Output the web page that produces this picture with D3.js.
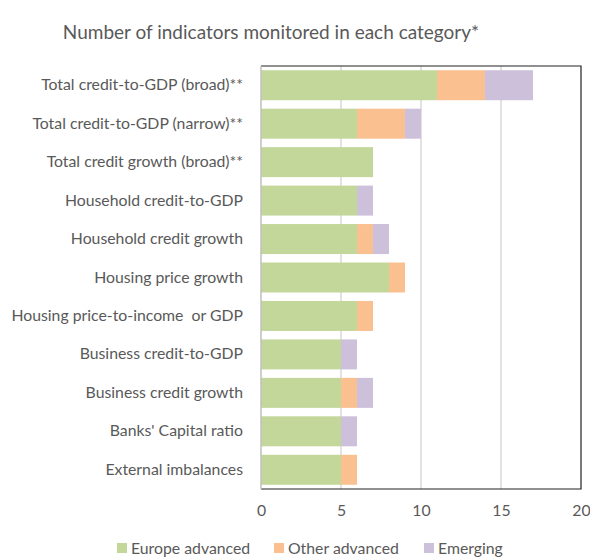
<!DOCTYPE html>
<html>
<head>
<meta charset="utf-8">
<script src="https://cdn.jsdelivr.net/npm/d3@7"></script>
<style>
  body { margin: 0; background: #fff; }
  text { font-family: Lato, "Open Sans", sans-serif; fill: #595959; }
</style>
</head>
<body>
<svg id="canvas" width="590" height="557"></svg>
<script>
let categories = [
    "Total credit-to-GDP (broad)**",
    "Total credit-to-GDP (narrow)**",
    "Total credit growth (broad)**",
    "Household credit-to-GDP",
    "Household credit growth",
    "Housing price growth",
    "Housing price-to-income  or GDP",
    "Business credit-to-GDP",
    "Business credit growth",
    "Banks' Capital ratio",
    "External imbalances"
]
let seriesNames = ["Europe advanced", "Other advanced", "Emerging"]
let europeAdvanced = [11, 6, 7, 6, 6, 8, 6, 5, 5, 5, 5]
let otherAdvanced  = [3, 3, 0, 0, 1, 1, 1, 0, 1, 0, 1]
let emerging       = [3, 1, 0, 1, 1, 0, 0, 1, 1, 1, 0]
let xTicks = [0, 5, 10, 15, 20]
let colors = ["#c4d79b", "#fac090", "#ccc0da"]

let canvas = d3.select("#canvas")

let plotLeft = 261, plotRight = 581, plotTop = 66, plotBottom = 489

let rows = categories.map((c, i) => ({
    cat: c,
    "Europe advanced": europeAdvanced[i],
    "Other advanced": otherAdvanced[i],
    "Emerging": emerging[i]
}))
let stacked = d3.stack().keys(seriesNames)(rows)

let x = d3.scaleLinear().domain([0, 20]).range([plotLeft, plotRight])
let y = d3.scaleBand().domain(categories).range([plotTop, plotBottom]).paddingInner(0.22).paddingOuter(0.11)

// title
canvas.append("text")
    .attr("x", 271)
    .attr("y", 39)
    .attr("text-anchor", "middle")
    .style("font-size", "19px")
    .text("Number of indicators monitored in each category*")

// gridlines
canvas.append("g")
    .selectAll("line")
    .data(xTicks.slice(1, -1))
    .enter()
    .append("line")
    .attr("x1", (d) => x(d))
    .attr("x2", (d) => x(d))
    .attr("y1", plotTop)
    .attr("y2", plotBottom)
    .attr("stroke", "#d9d9d9")
    .attr("stroke-width", 1.5)

// bars
canvas.append("g")
    .selectAll("g")
    .data(stacked)
    .enter()
    .append("g")
    .attr("fill", (d, i) => colors[i])
    .selectAll("rect")
    .data((d) => d)
    .enter()
    .append("rect")
    .attr("x", (d) => x(d[0]))
    .attr("y", (d) => y(d.data.cat))
    .attr("width", (d) => x(d[1]) - x(d[0]))
    .attr("height", y.bandwidth())

// frame
canvas.append("path")
    .attr("d", `M${plotLeft},${plotTop}H${plotRight}V${plotBottom}H${plotLeft}`)
    .attr("fill", "none")
    .attr("stroke", "#222")
    .attr("stroke-width", 1.2)
canvas.append("line")
    .attr("x1", plotLeft).attr("x2", plotLeft)
    .attr("y1", plotTop).attr("y2", plotBottom)
    .attr("stroke", "#bfbfbf")
    .attr("stroke-width", 1.5)

// x axis labels
let xAxis = d3.axisBottom(x).tickValues(xTicks).tickSize(0).tickPadding(16)
let gx = canvas.append("g")
    .attr("transform", `translate(0,${plotBottom})`)
    .call(xAxis)
gx.select(".domain").remove()
gx.selectAll("text")
    .style("font-size", "15.8px")
    .style("font-family", "Lato, 'Open Sans', sans-serif")
    .attr("fill", "#595959")

// y axis labels
let yAxis = d3.axisLeft(y).tickSize(0).tickPadding(18)
let gy = canvas.append("g")
    .attr("transform", `translate(${plotLeft},0)`)
    .call(yAxis)
gy.select(".domain").remove()
gy.selectAll("text")
    .style("font-size", "15.8px")
    .style("font-family", "Lato, 'Open Sans', sans-serif")
    .attr("fill", "#595959")
    .style("white-space", "pre")

// legend
let legendX = [117, 274, 424]
let legend = canvas.append("g")
    .selectAll("g")
    .data(seriesNames)
    .enter()
    .append("g")
    .attr("transform", (d, i) => `translate(${legendX[i]},543)`)
legend.append("rect")
    .attr("width", 10)
    .attr("height", 10)
    .attr("fill", (d, i) => colors[i])
legend.append("text")
    .attr("x", 14)
    .attr("y", 10.5)
    .style("font-size", "15.8px")
    .text((d) => d)
</script>
</body>
</html>
